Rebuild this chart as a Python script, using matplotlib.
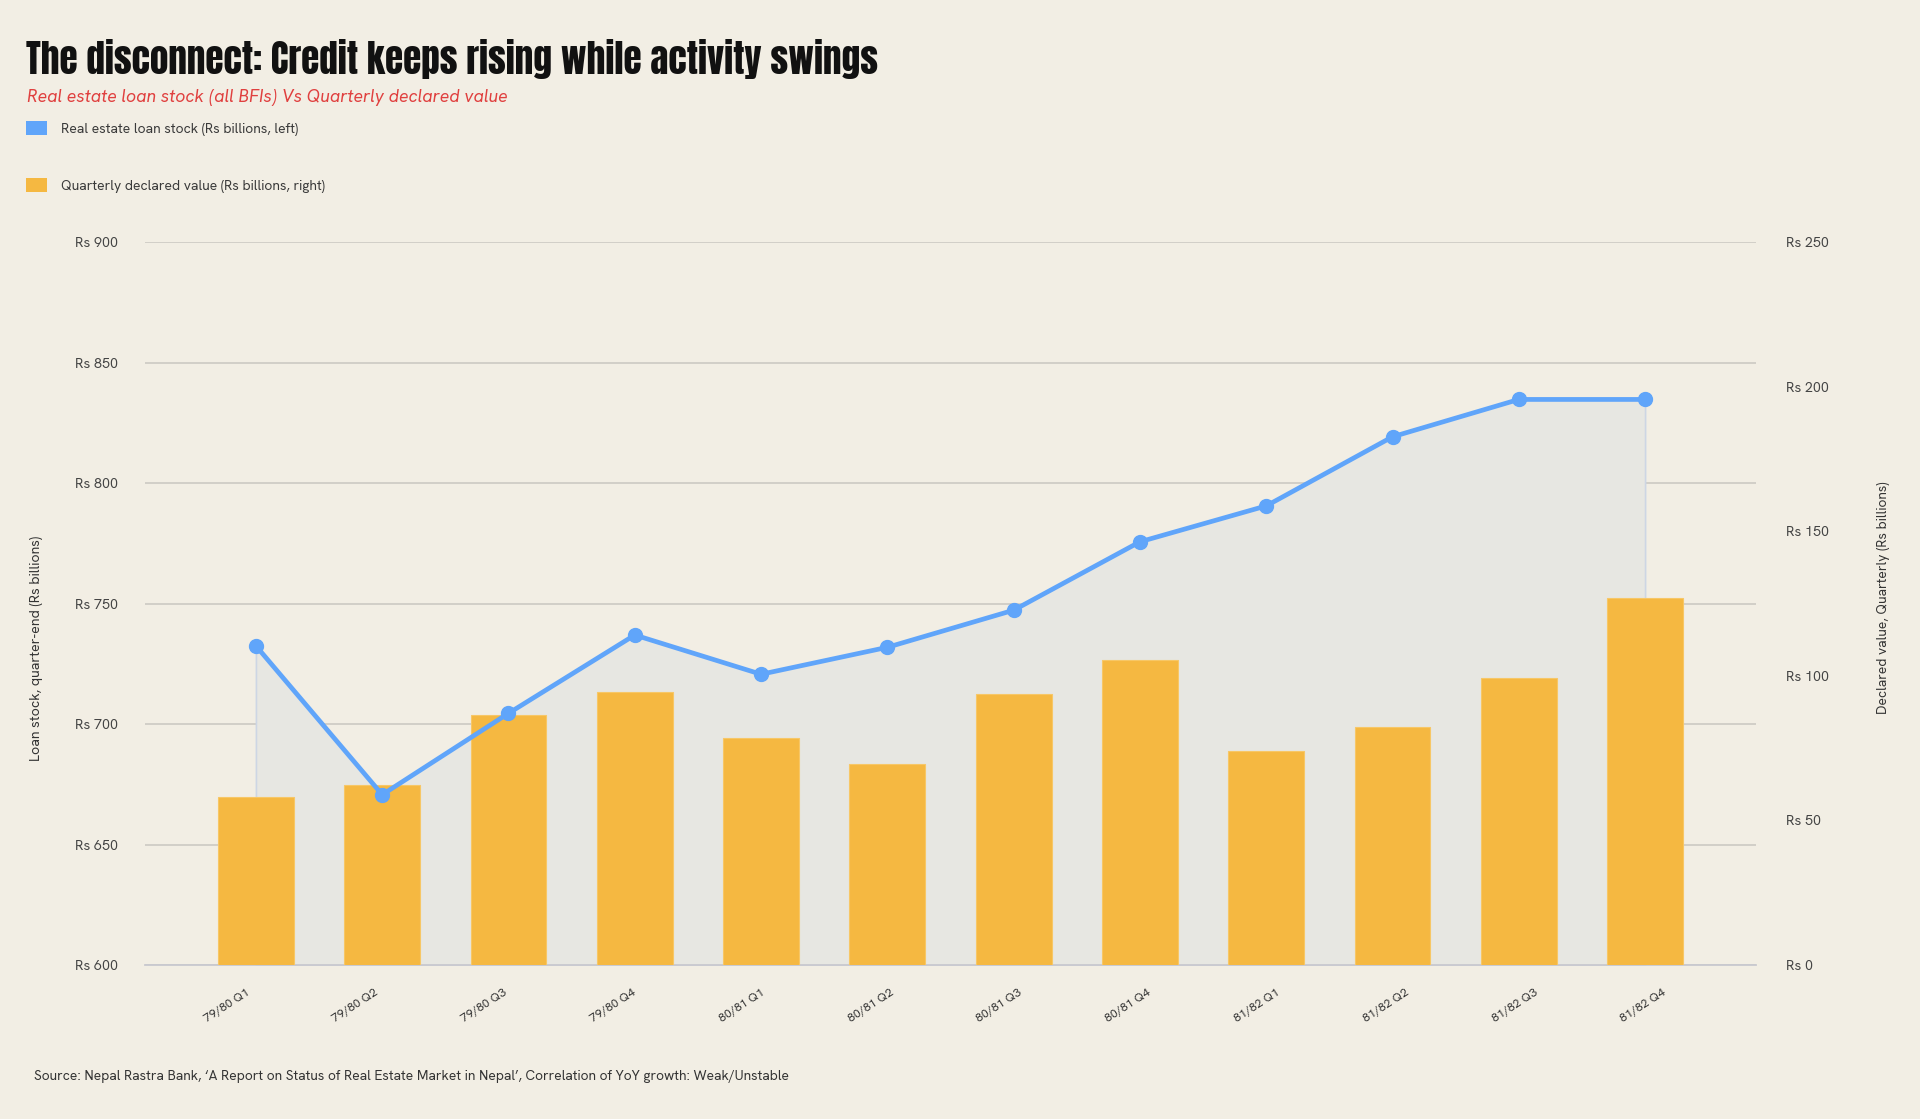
import numpy as np
import matplotlib.pyplot as plt
from matplotlib.patches import Patch

# data
quarters = ['79/80 Q1', '79/80 Q2', '79/80 Q3', '79/80 Q4',
            '80/81 Q1', '80/81 Q2', '80/81 Q3', '80/81 Q4',
            '81/82 Q1', '81/82 Q2', '81/82 Q3', '81/82 Q4']
loan_stock = [732.5, 670.7, 704.5, 737.0, 720.7, 731.9, 747.3, 775.7, 790.6, 819.3, 834.8, 834.8]
declared = [58.0, 62.2, 86.6, 94.6, 78.5, 69.6, 93.7, 105.6, 74.2, 82.2, 99.2, 126.9]
left_ticks = [600, 650, 700, 750, 800, 850, 900]
right_ticks = [0, 50, 100, 150, 200, 250]

BG = '#f2eee4'
BLUE = '#60a5fa'
ORANGE = '#f5b841'
HEAD = ['Anton', 'Oswald', 'DejaVu Sans']
BODY = ['Hanken Grotesk', 'DejaVu Sans']

fig = plt.figure(figsize=(19.2, 11.19), dpi=100, facecolor=BG)
W, H = 1920, 1119
rend = fig.canvas.get_renderer()


def fit(t, length_px, vertical=False):
    # scale a text's font size so it spans the length seen in the reference
    bb = t.get_window_extent(rend)
    w = bb.height if vertical else bb.width
    t.set_fontsize(t.get_fontsize() * length_px / w)
    return t


ax = fig.add_axes([145.3 / W, 1 - 965 / H, (1755.7 - 145.3) / W, (965 - 242.4) / H])
ax.set_facecolor('none')
ax2 = ax.twinx()

x = np.arange(len(quarters))

# area under the loan line (left scale)
ax.fill_between(x, loan_stock, 600, color='#e7e7e2', edgecolor='#cdd6e4', linewidth=1.2, zorder=1)

ax.set_xlim(-0.876, 11.876)
ax.set_ylim(600, 900)
ax.set_yticks(left_ticks)
ax.set_yticklabels(['Rs %d' % v for v in left_ticks])
ax.yaxis.grid(True, color='#cfccc6', linewidth=1.3, zorder=0)
ax.set_axisbelow(True)
ax.set_xticks([])

ax2.set_ylim(0, 250)
ax2.set_yticks(right_ticks)
ax2.set_yticklabels(['Rs %d' % v for v in right_ticks])
ax2.bar(x, declared, width=0.6, color=ORANGE, edgecolor='#f7c766', linewidth=0.8, zorder=2)
ax2.plot(x, loan_stock, color=BLUE, linewidth=3.4, marker='o', markersize=10,
         transform=ax.transData, zorder=3, solid_capstyle='round')

# tick label size from the width of "Rs 900" (about 43 px)
probe = fig.text(0, 0, 'Rs 900', family=BODY, fontsize=10)
tick_size = fit(probe, 43).get_fontsize()
probe.remove()

for a in (ax, ax2):
    for s in a.spines.values():
        s.set_visible(False)
    a.tick_params(axis='y', length=0, labelsize=tick_size, labelcolor='#444444')
    for lab in a.get_yticklabels():
        lab.set_family(BODY)
ax.tick_params(axis='y', pad=20)
ax2.tick_params(axis='y', pad=22)
ax.spines['bottom'].set_visible(True)
ax.spines['bottom'].set_color('#c9c9cf')
ax.spines['bottom'].set_linewidth(1.3)

# x labels on their own axis (they sit on a slightly wider spacing than the bars)
probe = fig.text(0, 0, '79/80 Q1', family=BODY, fontsize=10)
xl_size = fit(probe, 52).get_fontsize()
probe.remove()
axl = fig.add_axes(ax.get_position(), facecolor='none')
axl.set_xlim(-0.632, 11.871)
axl.set_yticks([])
for s in axl.spines.values():
    s.set_visible(False)
axl.set_xticks(x)
axl.set_xticklabels(quarters, rotation=33, fontsize=xl_size, color='#333333', family=BODY)
axl.tick_params(axis='x', length=0, pad=16)

# titles
t = fig.text(26 / W, 1 - 74 / H, 'The disconnect: Credit keeps rising while activity swings',
             family=HEAD, fontsize=26, color='#111111', va='baseline')
fit(t, 851)
t = fig.text(26.7 / W, 1 - 101.7 / H, 'Real estate loan stock (all BFIs) Vs Quarterly declared value',
             family=BODY, style='italic', fontsize=12, color='#e0403f', va='baseline')
fit(t, 481)

# legend, one entry per row as in the reference
probe = fig.text(0, 0, 'Quarterly declared value (Rs billions, right)', family=BODY, fontsize=10)
leg_size = fit(probe, 264).get_fontsize()
probe.remove()
px = leg_size * 100 / 72
rows = [(BLUE, 'Real estate loan stock (Rs billions, left)', 128.6),
        (ORANGE, 'Quarterly declared value (Rs billions, right)', 185.6)]
for col, lab, yc in rows:
    fig.legend([Patch(facecolor=col)], [lab], loc='center left', bbox_to_anchor=(26 / W, 1 - yc / H),
               frameon=False, borderpad=0, borderaxespad=0, handlelength=21 / px, handleheight=15 / px,
               handletextpad=14.5 / px, prop={'family': BODY, 'size': leg_size}, labelcolor='#3a3a3a')

t = fig.text(36.7 / W, 1 - 648 / H, 'Loan stock, quarter-end (Rs billions)', family=BODY,
             fontsize=10, color='#333333', rotation=90, ha='center', va='center')
fit(t, 225, vertical=True)
t = fig.text(1884 / W, 1 - 598 / H, 'Declared value, Quarterly (Rs billions)', family=BODY,
             fontsize=10, color='#333333', rotation=90, ha='center', va='center')
fit(t, 232, vertical=True)

t = fig.text(33.7 / W, 1 - 1080 / H,
             'Source: Nepal Rastra Bank, \u2018A Report on Status of Real Estate Market in Nepal\u2019, '
             'Correlation of YoY growth: Weak/Unstable',
             family=BODY, fontsize=10, color='#333333', va='baseline')
fit(t, 755)

fig.savefig('out.png', dpi=100, facecolor=BG)
